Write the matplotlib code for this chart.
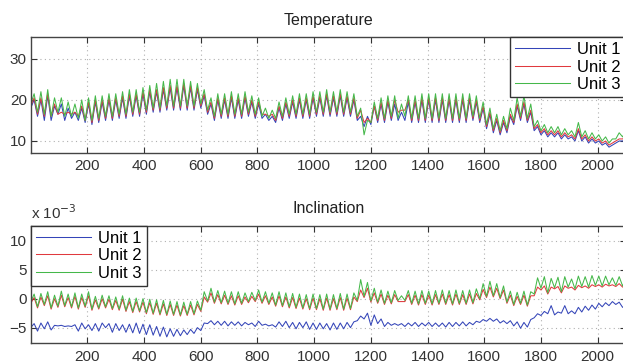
"""
Température et inclinaison de trois unités (série horaire, ~2100 h).
Valeurs relevées à la main sur la figure : un point toutes les 12 h
(alternance creux / pic du cycle journalier).
"""

import numpy as np
import matplotlib.pyplot as plt

plt.rcParams["font.family"] = ["Liberation Sans", "DejaVu Sans"]

PAS = 12  # heures entre deux relevés

LABELS = ["Unit 1", "Unit 2", "Unit 3"]
COULEURS = ["#3445b8", "#e0393e", "#45b84a"]

# --- Température (°C) ---
temp_u1 = [
    18, 20, 16, 20, 15, 21, 15, 18.5, 16.5, 19, 15, 18,
    15.5, 17, 15, 18, 14.5, 19, 14, 19.5, 14.5, 19.5, 15, 20,
    15, 20, 15.5, 20.5, 15.5, 21, 16, 21, 16, 21.5, 16.5, 22,
    17, 22, 17, 22.5, 17.5, 23, 17.5, 23, 17.5, 23.5, 17.5, 23,
    17.5, 22.5, 18, 21, 16.5, 19, 15, 20, 15.5, 20, 15.5, 20.5,
    15.5, 20, 15.5, 20.5, 16, 19.5, 15.5, 19, 15.5, 16.5, 15, 16,
    14.5, 18, 15, 19, 15.5, 19.5, 15.5, 20, 15.5, 20, 15.5, 20.5,
    16, 20.5, 16, 21, 16, 20.5, 16, 21, 16, 20.5, 16, 20,
    15, 16, 13.5, 16, 14, 18.5, 14.5, 19, 14.5, 19.5, 15, 19,
    15, 17, 15, 19.5, 14.5, 19.5, 14.5, 20, 14.5, 20, 14.5, 20,
    14.5, 20, 14.5, 20, 14.5, 20, 14.5, 20, 14.5, 20, 15, 19.5,
    14.5, 18, 13, 16.5, 12, 15, 11.5, 14.5, 12, 16, 14, 18.5,
    15, 19, 14.5, 17, 12.5, 13.5, 11.5, 12.5, 11, 12, 11, 12,
    10.5, 11.5, 10.5, 11, 10, 12.5, 10, 11, 9.5, 10.5, 9.5, 10,
    9, 9.5, 8.5, 9, 9.5, 10, 10, 10.5, 10.5, 11, 10.5, 11,
]
temp_u2 = [
    18.5, 20.5, 16.5, 20.5, 16, 21.5, 16, 19, 16.5, 17, 16.5, 17,
    16.5, 17, 16, 18.5, 15, 19.5, 14.5, 20, 15, 20, 15.5, 20.5,
    15.5, 20.5, 16, 21, 16, 21.5, 16.5, 21.5, 16.5, 22, 17, 22.5,
    17.5, 22.5, 17.5, 23, 18, 23.5, 18, 23.5, 18, 24, 18, 23.5,
    18, 23, 18.5, 21.5, 17, 19.5, 15.5, 20.5, 16, 20.5, 16, 21,
    16, 20.5, 16, 21, 16.5, 20, 16, 19.5, 16.5, 16.5, 16, 16.5,
    15, 18.5, 15.5, 19.5, 16, 20, 16, 20.5, 16, 20.5, 16, 21,
    16.5, 21, 16.5, 21.5, 16.5, 21, 16.5, 21.5, 16.5, 21, 16.5, 20.5,
    15.5, 17.5, 14.5, 15.5, 14.5, 18.5, 15, 19.5, 15, 20, 15.5, 20,
    17, 17.5, 17.5, 20, 15, 20, 15, 20.5, 15, 20.5, 15, 20.5,
    15, 20.5, 15, 20.5, 15, 20.5, 15, 20.5, 15, 20.5, 15.5, 20,
    15, 18.5, 13.5, 17, 12.5, 15.5, 12, 15, 12.5, 16.5, 14.5, 19,
    15.5, 19.5, 15, 17.5, 13, 14, 12, 13, 11.5, 12.5, 11.5, 12.5,
    11, 12, 11, 11.5, 10.5, 13, 10.5, 11.5, 10, 11, 10, 10.5,
    9.5, 10, 9, 9.5, 10, 10.5, 10.5, 11, 11, 11.5, 11, 11.5,
]
temp_u3 = [
    19, 21.5, 17, 22, 16.5, 22.5, 16, 20.5, 17, 20.5, 16, 19.5,
    16, 19, 15.5, 20, 15, 20.5, 15, 21, 15.5, 21, 16, 21.5,
    16, 21.5, 16.5, 22, 16.5, 22.5, 17, 22.5, 17, 23, 17.5, 23.5,
    18, 24, 18, 24.5, 18.5, 25, 18.5, 25, 18.5, 25, 18.5, 24.5,
    18.5, 24, 19, 22.5, 17.5, 20.5, 16, 21.5, 16.5, 21.5, 16.5, 22,
    16.5, 21.5, 16.5, 22, 17, 21, 16.5, 20.5, 16, 18, 15.5, 17.5,
    15.5, 19.5, 16, 20.5, 16.5, 21, 16.5, 21.5, 16.5, 21.5, 16.5, 22,
    17, 22, 17, 22.5, 17, 22, 17, 22.5, 17, 22, 17, 21.5,
    16, 18, 11.5, 15, 14.5, 19.5, 15.5, 20.5, 15.5, 21, 16, 21,
    15.5, 19, 16, 21, 15.5, 21, 15.5, 21.5, 15.5, 21.5, 15.5, 21.5,
    15.5, 21.5, 15.5, 21.5, 15.5, 21.5, 15.5, 21.5, 15.5, 21.5, 16, 21,
    15.5, 19.5, 14, 18, 13, 16.5, 12.5, 16, 13, 18, 15, 20.5,
    16, 21, 15.5, 19, 13.5, 15, 12.5, 14, 12, 13.5, 12, 13.5,
    11.5, 13, 11.5, 12.5, 11, 14.5, 11, 12.5, 10.5, 12, 10.5, 11.5,
    10, 11, 9.5, 10.5, 10.5, 12, 11, 12.5, 11.5, 12.5, 11.5, 12.5,
]

# --- Inclinaison (en 1e-3) ---
incl_u1 = [
    -5.0, -4.3, -5.6, -4.2, -5.2, -4.0, -5.4, -4.6, -4.7, -4.6, -4.8, -4.7,
    -4.8, -4.5, -5.6, -4.2, -5.2, -4.5, -5.5, -4.3, -5.6, -4.2, -5.0, -4.3,
    -5.8, -4.3, -5.5, -4.5, -5.8, -4.4, -5.9, -4.2, -6.0, -4.4, -6.2, -4.5,
    -6.3, -4.8, -6.5, -4.9, -6.6, -5.2, -6.5, -5.3, -6.4, -5.4, -6.2, -5.3,
    -6.0, -5.0, -5.5, -4.2, -4.3, -3.8, -4.5, -3.9, -4.6, -3.9, -4.7, -4.0,
    -4.6, -4.0, -4.7, -4.1, -4.5, -4.2, -4.8, -3.9, -4.6, -4.4, -4.7, -4.5,
    -4.9, -4.0, -4.8, -3.9, -5.0, -4.1, -5.2, -4.1, -5.0, -4.0, -5.3, -4.2,
    -5.3, -4.2, -5.2, -4.3, -5.4, -4.2, -5.3, -4.2, -5.2, -4.1, -5.0, -4.0,
    -3.8, -3.0, -3.5, -2.5, -4.6, -2.8, -4.3, -3.5, -4.8, -4.1, -4.6, -4.3,
    -4.6, -4.3, -4.8, -4.2, -4.7, -4.1, -4.8, -4.2, -4.7, -4.1, -4.8, -4.2,
    -4.8, -4.2, -4.9, -4.1, -4.8, -4.1, -4.7, -4.0, -4.7, -4.1, -4.5, -3.9,
    -4.1, -3.6, -3.9, -3.4, -3.9, -3.5, -4.2, -3.8, -4.3, -3.8, -4.7, -4.0,
    -5.1, -4.1, -4.9, -3.6, -3.3, -2.6, -2.9, -2.2, -2.6, -1.2, -2.8, -2.3,
    -2.5, -1.2, -2.6, -2.1, -2.6, -1.5, -2.3, -1.3, -2.0, -1.1, -1.8, -0.8,
    -1.4, -0.7, -1.2, -0.5, -1.0, -0.6, -1.5, -1.0, -1.7, -1.2, -1.6, -1.4,
]
incl_u2 = [
    -0.8, 0.2, -1.6, 0.3, -1.2, 0.5, -1.8, 0.0, -1.5, 0.6, -1.4, 0.2,
    -1.6, 0.4, -1.8, 0.2, -1.5, 0.5, -2.0, -0.2, -1.8, 0.0, -1.6, -0.1,
    -1.9, -0.3, -2.0, -0.1, -2.2, -0.5, -2.4, -0.5, -2.3, -0.6, -2.6, -0.7,
    -2.7, -0.8, -2.8, -0.9, -2.9, -1.0, -2.9, -1.1, -3.0, -1.2, -2.9, -1.1,
    -2.8, -1.0, -2.2, 0.3, -0.6, 1.0, -0.8, 0.7, -0.9, 0.6, -1.0, 0.5,
    -1.1, 0.5, -1.0, 0.3, -0.7, 0.4, -0.5, 0.8, -0.8, 0.5, -1.0, 0.3,
    -1.3, 0.5, -1.4, 0.3, -1.6, 0.2, -1.7, 0.1, -1.8, 0.0, -1.9, 0.1,
    -1.9, 0.0, -2.0, 0.1, -2.0, 0.0, -1.9, 0.2, -2.0, 0.1, -1.9, 0.3,
    -0.5, 1.5, 0.2, 1.8, -0.6, 1.0, -0.8, 0.8, -1.0, 0.6, -0.9, 0.7,
    -0.5, -0.5, -0.5, 0.7, -1.0, 0.6, -1.1, 0.7, -1.0, 0.6, -1.1, 0.7,
    -1.0, 0.8, -1.0, 0.7, -1.1, 0.8, -1.0, 0.7, -1.0, 0.8, -0.9, 0.9,
    -0.2, 1.6, 0.2, 2.0, 0.3, 1.8, 0.0, 1.5, -0.8, 0.6, -1.2, 0.4,
    -1.0, 0.6, -1.3, 0.5, 0.5, 2.0, 1.5, 2.2, 0.8, 2.0, 1.7, 2.1,
    1.0, 2.2, 1.8, 2.0, 1.5, 2.3, 1.9, 2.2, 1.8, 2.4, 2.1, 2.4,
    2.0, 2.5, 2.2, 2.4, 2.1, 2.6, 2.0, 2.3, 1.9, 2.2, 2.0, 2.1,
]
incl_u3 = [
    -0.6, 0.8, -1.4, 0.9, -1.0, 1.2, -1.6, 0.6, -1.3, 1.3, -1.2, 0.8,
    -1.4, 1.0, -1.6, 0.8, -1.3, 1.2, -1.8, 0.4, -1.6, 0.6, -1.4, 0.5,
    -1.7, 0.3, -1.8, 0.5, -2.0, 0.1, -2.2, 0.1, -2.1, 0.0, -2.4, -0.1,
    -2.5, -0.2, -2.6, -0.3, -2.7, -0.4, -2.7, -0.5, -2.8, -0.6, -2.7, -0.5,
    -2.6, -0.4, -2.0, 1.2, -0.4, 1.8, -0.6, 1.4, -0.7, 1.3, -0.8, 1.2,
    -0.9, 1.2, -0.8, 1.0, -0.5, 1.1, -0.3, 1.5, -0.6, 1.2, -0.8, 1.0,
    -1.1, 1.2, -1.2, 1.0, -1.4, 0.9, -1.5, 0.8, -1.6, 0.7, -1.7, 0.8,
    -1.7, 0.7, -1.8, 0.8, -1.8, 0.7, -1.7, 0.9, -1.8, 0.8, -1.7, 1.0,
    -0.3, 3.3, 0.4, 2.8, -0.4, 1.8, -0.6, 1.5, -0.8, 1.3, -0.7, 1.4,
    -0.3, 0.5, -0.3, 1.4, -0.8, 1.3, -0.9, 1.4, -0.8, 1.3, -0.9, 1.4,
    -0.8, 1.5, -0.8, 1.4, -0.9, 1.5, -0.8, 1.4, -0.8, 1.5, -0.7, 1.7,
    0.0, 2.6, 0.4, 3.0, 0.5, 2.6, 0.2, 2.2, -0.6, 1.3, -1.0, 1.1,
    -0.8, 1.3, -1.1, 1.2, 0.8, 3.6, 1.8, 3.8, 1.0, 3.5, 1.9, 3.7,
    1.2, 3.8, 2.0, 3.4, 1.7, 3.9, 2.1, 3.8, 2.0, 4.0, 2.3, 3.9,
    2.2, 3.9, 2.4, 3.6, 2.3, 3.8, 2.2, 3.4, 2.1, 3.2, 2.2, 3.0,
]

heures = np.arange(len(temp_u1)) * PAS

W, H = 623, 363
fig = plt.figure(figsize=(W / 100, H / 100), dpi=100)


def style_axe(ax, yticks, ylim, titre):
    ax.set_xlim(1, 2100)
    ax.set_ylim(*ylim)
    ax.set_xticks(range(200, 2001, 200))
    ax.set_yticks(yticks)
    ax.tick_params(direction="in", length=4, width=0.8, labelsize=11,
                   top=True, right=True, colors="#333333", pad=5)
    ax.tick_params(axis="y", pad=3)
    ax.grid(True, linestyle=(0, (1, 3)), color="#b0b0b0", linewidth=0.8)
    for s in ax.spines.values():
        s.set_color("#444444")
        s.set_linewidth(1.0)
    ax.set_title(titre, fontsize=11.5, pad=9, color="#222222")


def legende(ax, loc, anchor):
    leg = ax.legend(loc=loc, bbox_to_anchor=anchor, borderaxespad=0.0,
                    fontsize=12, handlelength=3.3, handletextpad=0.45,
                    labelspacing=0.15, borderpad=0.3, fancybox=False,
                    framealpha=1.0, edgecolor="#333333")
    leg.get_frame().set_linewidth(1.0)


# --- Température ---
ax1 = fig.add_axes([31 / W, 1 - 152.5 / H, 595 / W, 115.5 / H])
for y, lab, c in zip([temp_u1, temp_u2, temp_u3], LABELS, COULEURS):
    ax1.plot(heures, y, color=c, linewidth=0.75, label=lab)
style_axe(ax1, [10, 20, 30], (7.2, 35.3), "Temperature")
legende(ax1, "upper right", (1.0, 1.0))

# --- Inclinaison ---
ax2 = fig.add_axes([31 / W, 1 - 342.7 / H, 595 / W, 117 / H])
for y, lab, c in zip([incl_u1, incl_u2, incl_u3], LABELS, COULEURS):
    ax2.plot(heures, y, color=c, linewidth=0.75, label=lab)
style_axe(ax2, [-5, 0, 5, 10], (-7.6, 12.6), "Inclination")
legende(ax2, "upper left", (0.0, 1.0))
ax2.text(0.0, 1.03, r"x 10$^{-3}$", transform=ax2.transAxes, fontsize=11,
         ha="left", va="bottom", color="#333333")

fig.savefig("out.png", dpi=100)
